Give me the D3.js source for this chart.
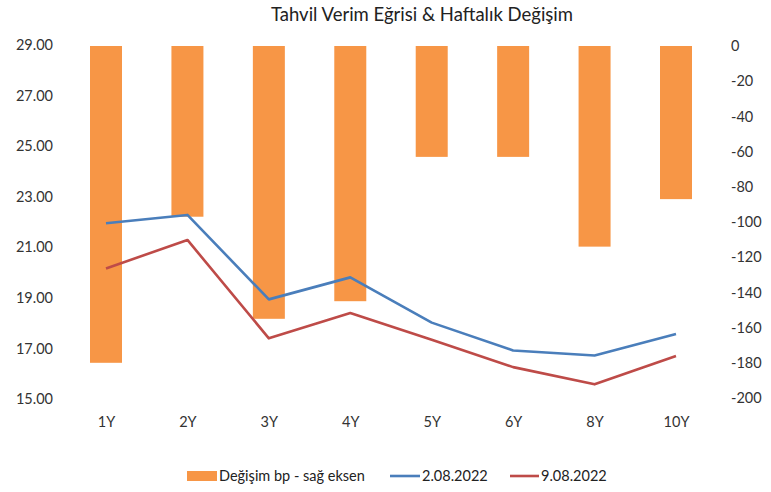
<!DOCTYPE html>
<html><head><meta charset="utf-8">
<script src="https://cdn.jsdelivr.net/npm/d3@7"></script>
<style>body{margin:0;background:#fff}svg{display:block}</style>
</head><body>
<script>
const categories = ["1Y","2Y","3Y","4Y","5Y","6Y","8Y","10Y"];
const changeBp = [-180,-97,-155,-145,-63,-63,-114,-87];
const yield0208 = [21.95,22.28,18.94,19.81,18.02,16.92,16.72,17.57];
const yield0908 = [20.16,21.29,17.40,18.40,17.34,16.26,15.58,16.70];
const leftTicks = [15,17,19,21,23,25,27,29];
const rightTicks = [0,-20,-40,-60,-80,-100,-120,-140,-160,-180,-200];
const title = "Tahvil Verim Eğrisi & Haftalık Değişim";
const seriesNames = ["Değişim bp - sağ eksen","2.08.2022","9.08.2022"];

const W=771,H=492;
const font="Lato, 'Open Sans', sans-serif";
const colors={bar:"#f79646",blue:"#4a7ebb",red:"#be4b48"};
const svg=d3.select("body").append("svg").attr("width",W).attr("height",H);
const xc=d3.scalePoint().domain(categories).range([106,676]);
const yL=d3.scaleLinear().domain([15,29]).range([399,45]);
const yR=d3.scaleLinear().domain([-200,0]).range([398,46]);

svg.append("text").attr("x",422).attr("y",21).attr("text-anchor","middle")
  .attr("font-family",font).attr("font-size",18.5).attr("fill","#222").text(title);

const axL=svg.append("g").attr("transform","translate(53,0)")
  .call(d3.axisLeft(yL).tickValues(leftTicks).tickFormat(d3.format(".2f")).tickSize(0).tickPadding(0));
const axR=svg.append("g").attr("transform","translate(731,0)")
  .call(d3.axisRight(yR).tickValues(rightTicks).tickSize(0).tickPadding(0));
const axB=svg.append("g").attr("transform","translate(0,417)")
  .call(d3.axisBottom(xc).tickSize(0).tickPadding(0));
[axL,axR,axB].forEach(a=>{a.select(".domain").remove();
  a.selectAll("text").attr("font-family",font).attr("font-size",14.5).attr("fill","#333");});
axR.selectAll("text").text(d=>d===0?"0":"-"+Math.abs(d));

svg.append("g").selectAll("rect").data(categories).join("rect")
  .attr("x",d=>xc(d)-16).attr("width",32)
  .attr("y",yR(0)).attr("height",(d,i)=>yR(changeBp[i])-yR(0))
  .attr("fill",colors.bar);

const line=d3.line().x((d,i)=>xc(categories[i])).y(d=>yL(d));
svg.append("path").datum(yield0208).attr("d",line).attr("fill","none")
  .attr("stroke",colors.blue).attr("stroke-width",2.6).attr("stroke-linejoin","round");
svg.append("path").datum(yield0908).attr("d",line).attr("fill","none")
  .attr("stroke",colors.red).attr("stroke-width",2.6).attr("stroke-linejoin","round");

const lg=svg.append("g").attr("font-family",font).attr("font-size",14.5).attr("fill","#222");
lg.append("rect").attr("x",187).attr("y",471).attr("width",30).attr("height",10).attr("fill",colors.bar);
lg.append("text").attr("x",219).attr("y",481).text(seriesNames[0]);
lg.append("line").attr("x1",390).attr("x2",420).attr("y1",476).attr("y2",476).attr("stroke",colors.blue).attr("stroke-width",2.6);
lg.append("text").attr("x",422).attr("y",481).text(seriesNames[1]);
lg.append("line").attr("x1",510).attr("x2",539).attr("y1",476).attr("y2",476).attr("stroke",colors.red).attr("stroke-width",2.6);
lg.append("text").attr("x",541).attr("y",481).text(seriesNames[2]);
</script>
</body></html>
